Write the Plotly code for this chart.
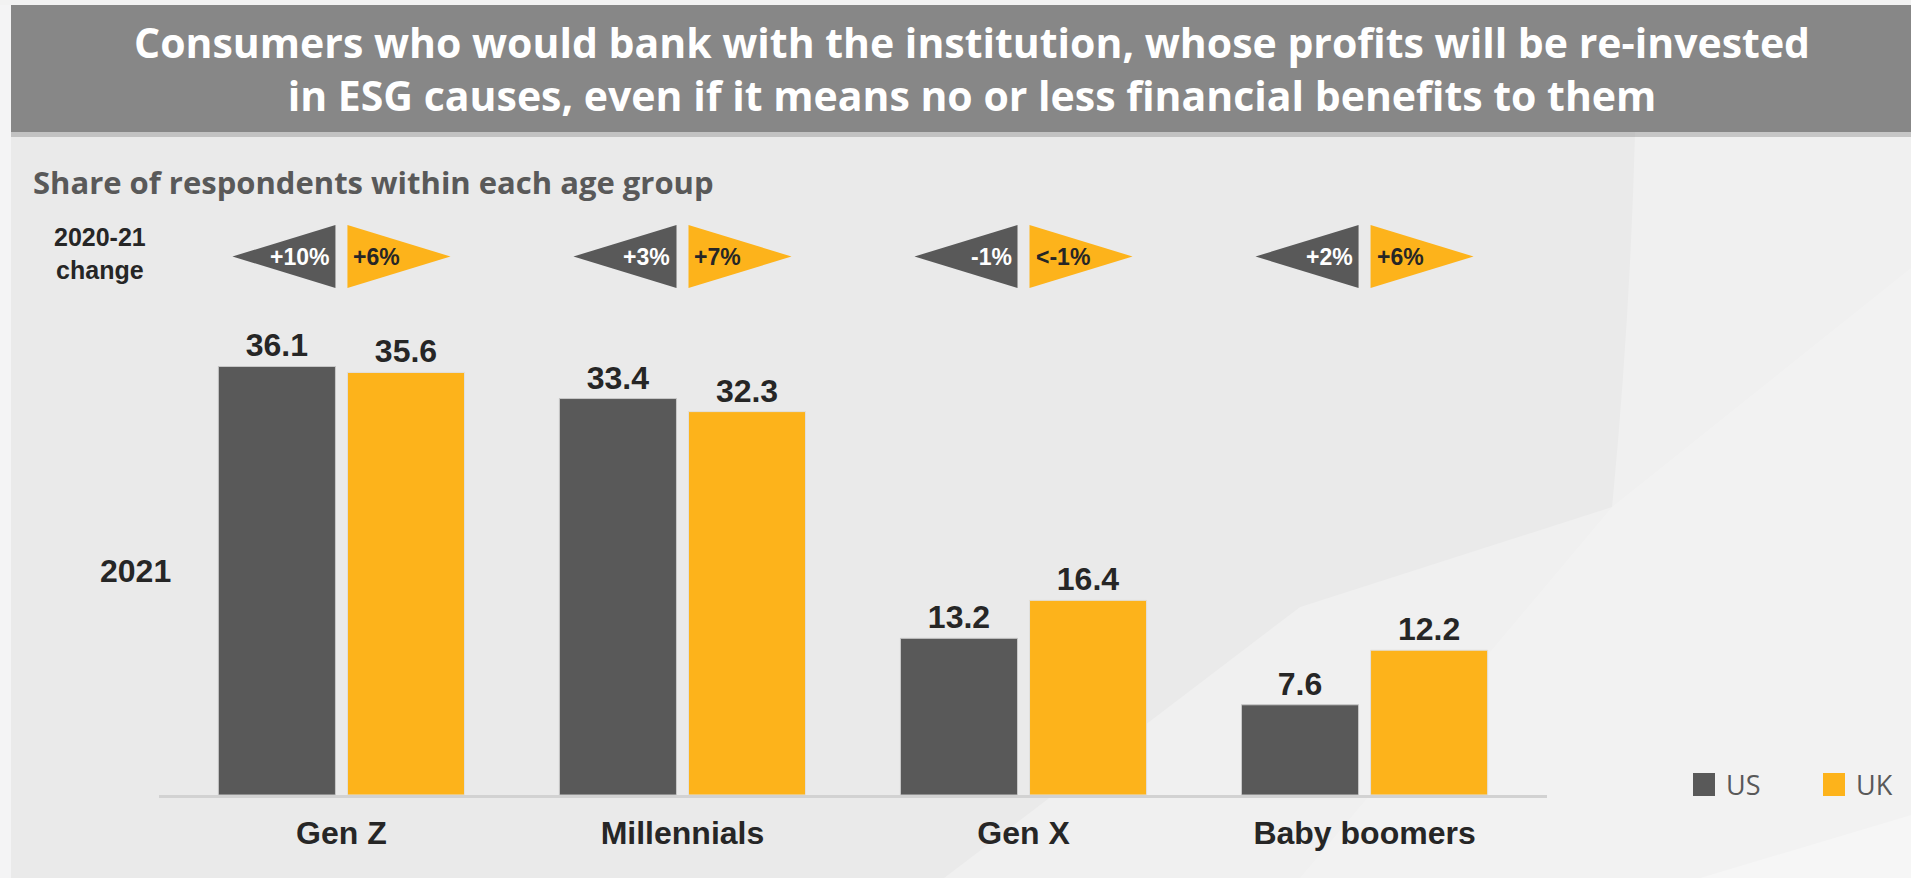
import plotly.graph_objects as go

# ---- data ----
age_groups = ["Gen Z", "Millennials", "Gen X", "Baby boomers"]
us_2021 = [36.1, 33.4, 13.2, 7.6]
uk_2021 = [35.6, 32.3, 16.4, 12.2]
us_change = ["+10%", "+3%", "-1%", "+2%"]
uk_change = ["+6%", "+7%", "&lt;-1%", "+6%"]

US_COLOR = "#595959"
UK_COLOR = "#FDB31B"
TEXT_DARK = "#262626"

W, H = 1911, 878


def px(x):
    return x / W


def py(y):
    return 1 - y / H


# bar geometry (in x-axis units, one unit per age group)
BARGAP = 0.243
BARGROUPGAP = 0.093
slot = (1 - BARGAP) / 2
bar_w = slot * (1 - BARGROUPGAP)
inner_gap = slot * BARGROUPGAP

x_idx = list(range(len(age_groups)))

fig = go.Figure()
fig.add_trace(go.Bar(
    x=x_idx, y=us_2021, name="US", marker=dict(color=US_COLOR, line=dict(color="#C8C8C8", width=1)),
    texttemplate="%{y:.1f}", textposition="outside", cliponaxis=False,
    textfont=dict(family="Liberation Sans", size=32, color=TEXT_DARK, weight="bold"),
    showlegend=False,
))
fig.add_trace(go.Bar(
    x=x_idx, y=uk_2021, name="UK", marker=dict(color=UK_COLOR, line=dict(color="#E0E0E0", width=1)),
    texttemplate="%{y:.1f}", textposition="outside", cliponaxis=False,
    textfont=dict(family="Liberation Sans", size=32, color=TEXT_DARK, weight="bold"),
    showlegend=False,
))

shapes = []
annotations = []

# background: lighter left strip, soft light swooshes on the right
shapes.append(dict(type="rect", xref="paper", yref="paper", x0=0, x1=px(11), y0=0, y1=1,
                   fillcolor="#F4F4F5", line_width=0, layer="below"))
shapes.append(dict(type="path", xref="paper", yref="paper", layer="below", line_width=0,
                   fillcolor="rgba(255,255,255,0.28)",
                   path=(f"M {px(1635)},{py(132)} L {px(1911)},{py(132)} L {px(1911)},{py(878)} "
                         f"L {px(944)},{py(878)} L {px(1300)},{py(607)} L {px(1612)},{py(507)} "
                         f"Q {px(1630)},{py(320)} {px(1635)},{py(132)} Z")))
shapes.append(dict(type="path", xref="paper", yref="paper", layer="below", line_width=0,
                   fillcolor="rgba(255,255,255,0.18)",
                   path=(f"M {px(1612)},{py(507)} L {px(1911)},{py(268)} L {px(1911)},{py(878)} "
                         f"L {px(1300)},{py(878)} Z")))
shapes.append(dict(type="path", xref="paper", yref="paper", layer="below", line_width=0,
                   fillcolor="rgba(255,255,255,0.3)",
                   path=f"M {px(1700)},{py(878)} L {px(1911)},{py(815)} L {px(1911)},{py(878)} Z"))

# header band with a soft shadow
shapes.append(dict(type="rect", xref="paper", yref="paper", x0=0, x1=1, y0=py(5), y1=1,
                   fillcolor="#F2F2F2", line_width=0, layer="below"))
shapes.append(dict(type="rect", xref="paper", yref="paper", x0=px(11), x1=1, y0=py(137), y1=py(131),
                   fillcolor="rgba(120,120,120,0.35)", line_width=0, layer="below"))
shapes.append(dict(type="rect", xref="paper", yref="paper", x0=px(11), x1=1, y0=py(132), y1=py(5),
                   fillcolor="#878787", line_width=0, layer="below"))

TITLE_FONT = dict(family="Open Sans", size=41, color="white", weight="bold")
annotations.append(dict(xref="paper", yref="paper", x=px(972), y=py(68), showarrow=False,
                        text=("Consumers who would bank with the institution, whose profits will be re-invested"
                              "<br>in ESG causes, even if it means no or less financial benefits to them"),
                        font=TITLE_FONT, align="center", xanchor="center", yanchor="middle"))

annotations.append(dict(xref="paper", yref="paper", x=px(31), y=py(182), showarrow=False,
                        text="Share of respondents within each age group",
                        font=dict(family="Open Sans", size=31, color="#595959", weight="bold"),
                        xanchor="left", yanchor="middle"))

ROW_FONT = dict(family="Liberation Sans", size=25, color=TEXT_DARK, weight="bold")
annotations.append(dict(xref="paper", yref="paper", x=px(100), y=py(253), showarrow=False,
                        text="2020-21<br>change", font=ROW_FONT, align="center",
                        xanchor="center", yanchor="middle"))
annotations.append(dict(xref="paper", yref="paper", x=px(135), y=py(571), showarrow=False,
                        text="2021", font=dict(family="Liberation Sans", size=32, color=TEXT_DARK, weight="bold"),
                        xanchor="center", yanchor="middle"))

# 2020-21 change pennants above each group
P_TOP, P_BOT = py(225), py(288)
P_MID = (P_TOP + P_BOT) / 2
p_len = bar_w * 0.88
CHG_FONT = dict(family="Liberation Sans", size=23, weight="bold")
for i, (uc, kc) in enumerate(zip(us_change, uk_change)):
    us_edge = i - inner_gap / 2
    uk_edge = i + inner_gap / 2
    shapes.append(dict(type="path", xref="x", yref="paper", line_width=0, fillcolor=US_COLOR,
                       path=f"M {us_edge},{P_TOP} L {us_edge},{P_BOT} L {us_edge - p_len},{P_MID} Z"))
    shapes.append(dict(type="path", xref="x", yref="paper", line_width=0, fillcolor=UK_COLOR,
                       path=f"M {uk_edge},{P_TOP} L {uk_edge},{P_BOT} L {uk_edge + p_len},{P_MID} Z"))
    annotations.append(dict(xref="x", yref="paper", x=us_edge, y=P_MID, xshift=-4, showarrow=False,
                            text=uc, font=dict(CHG_FONT, color="white"), xanchor="right", yanchor="middle"))
    annotations.append(dict(xref="x", yref="paper", x=uk_edge, y=P_MID, xshift=4, showarrow=False,
                            text=kc, font=dict(CHG_FONT, color=TEXT_DARK), xanchor="left", yanchor="middle"))

# legend swatches
LEG_FONT = dict(family="Open Sans", size=27, color="#595959")
for x0, name, color in [(1693, "US", US_COLOR), (1823, "UK", UK_COLOR)]:
    shapes.append(dict(type="rect", xref="paper", yref="paper", x0=px(x0), x1=px(x0 + 22),
                       y0=py(796), y1=py(773), fillcolor=color, line_width=0))
    annotations.append(dict(xref="paper", yref="paper", x=px(x0 + 31), y=py(784), showarrow=False,
                            text=name, font=LEG_FONT, xanchor="left", yanchor="middle"))

y_top = 795 - 40 * 11.87
fig.update_layout(
    width=W, height=H,
    margin=dict(l=0, r=0, t=0, b=0),
    paper_bgcolor="#EAEAEA", plot_bgcolor="rgba(0,0,0,0)",
    barmode="group", bargap=BARGAP, bargroupgap=BARGROUPGAP,
    shapes=shapes, annotations=annotations,
    xaxis=dict(domain=[px(159), px(1547)], range=[-0.535, 3.535],
               tickvals=x_idx, ticktext=age_groups, showgrid=False, zeroline=False,
               showline=True, linecolor="#D2D2D2", linewidth=3, ticks="",
               ticklabelstandoff=8,
               tickfont=dict(family="Liberation Sans", size=32, color=TEXT_DARK, weight="bold")),
    yaxis=dict(domain=[py(795), py(y_top)], range=[0, 40], visible=False),
)

fig.write_html("out.html")
